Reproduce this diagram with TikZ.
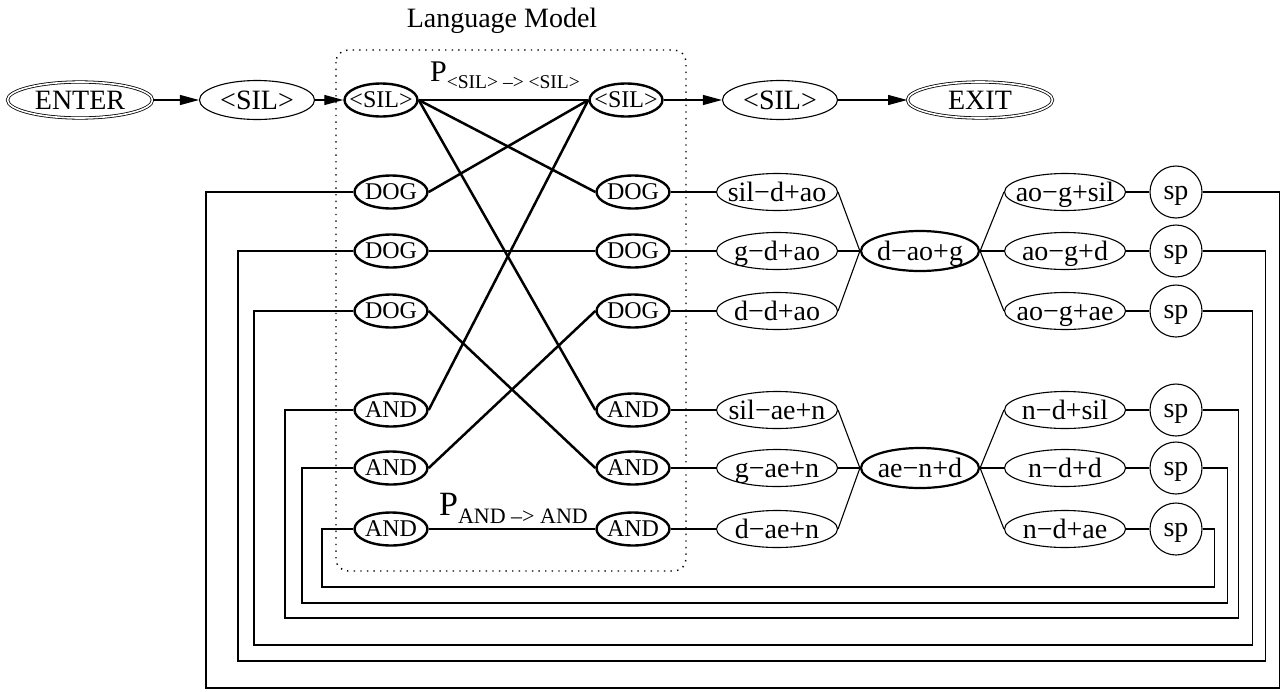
\documentclass[tikz,border=0pt]{standalone}
\usepackage{fontspec}
\setmainfont{Liberation Serif}
\usetikzlibrary{shapes.geometric}
\usetikzlibrary{arrows.meta}

\tikzset{
    oval/.style={ellipse, draw, line width=1.1pt, inner xsep=-20pt, inner ysep=-6pt,
        text height=19pt, text depth=1pt, font=\fontsize{28}{30}\selectfont},
    terminal/.style={oval, double, line width=0.8pt, double distance=1.6pt,
        minimum width=145pt, minimum height=36pt},
    silbox/.style={oval, minimum width=115pt, minimum height=39pt},
    lmword/.style={oval, line width=2.4pt, minimum width=73pt, minimum height=33pt,
        text height=16pt, font=\fontsize{24}{26}\selectfont},
    phone/.style={oval, minimum width=121pt, minimum height=37pt},
    midphone/.style={phone, line width=2.2pt, minimum width=118pt, minimum height=40pt},
    pause/.style={circle, draw, line width=1.1pt, inner sep=0pt, minimum size=52pt,
        text height=14pt, text depth=0pt, font=\fontsize{28}{30}\selectfont},
    wire/.style={line width=1.1pt},
    link/.style={line width=2.5pt},
    arrow/.style={wire, -{Triangle[length=19pt,width=10pt]}},
}

\begin{document}
\begin{tikzpicture}[x=1pt,y=-1pt]
    \useasboundingbox (0,0) rectangle (1285,691);

    % language model box
    \draw[line width=1.4pt, dash pattern=on 1.4pt off 5.2pt, rounded corners=12pt]
        (336,50) rectangle (686,571);
    \node[anchor=base, font=\fontsize{28}{30}\selectfont] (lmtitle) at (502,27) {Language Model};

    % top row
    \node[terminal] (enter) at (80,100) {ENTER};
    \node[silbox] (silin) at (257,100) {<SIL>};
    \node[lmword] (silL) at (381,100) {<SIL>};
    \node[lmword] (silR) at (626,100) {<SIL>};
    \node[silbox] (silout) at (780,100) {<SIL>};
    \node[terminal] (exit) at (980,100) {EXIT};

    \draw[arrow] (enter) -- (silin);
    \draw[arrow] (silin) -- (silL);
    \draw[arrow] (silR) -- (silout);
    \draw[arrow] (silout) -- (exit);

    % word ends, left and right
    \node[lmword] (dogLa) at (391,192) {DOG};
    \node[lmword] (dogLb) at (391,251) {DOG};
    \node[lmword] (dogLc) at (391,311) {DOG};
    \node[lmword] (andLa) at (391,410) {AND};
    \node[lmword] (andLb) at (391,468) {AND};
    \node[lmword] (andLc) at (391,529) {AND};

    \node[lmword] (dogRa) at (633,192) {DOG};
    \node[lmword] (dogRb) at (633,251) {DOG};
    \node[lmword] (dogRc) at (633,311) {DOG};
    \node[lmword] (andRa) at (633,410) {AND};
    \node[lmword] (andRb) at (633,468) {AND};
    \node[lmword] (andRc) at (633,529) {AND};

    % bigram links
    \draw[link] (silL.east) -- (silR.west);
    \draw[link] (silL.east) -- (dogRa.west);
    \draw[link] (silL.east) -- (andRa.west);
    \draw[link] (dogLa.east) -- (silR.west);
    \draw[link] (dogLb.east) -- (dogRb.west);
    \draw[link] (dogLc.east) -- (andRb.west);
    \draw[link] (andLa.east) -- (silR.west);
    \draw[link] (andLb.east) -- (dogRc.west);
    \draw[link] (andLc.east) -- (andRc.west);

    \node[anchor=base west, inner sep=0pt, font=\fontsize{30}{32}\selectfont] (psil) at (430,81)
        {P\raisebox{-7pt}{\fontsize{19.5}{21}\selectfont <SIL> \textendash> <SIL>}};
    \node[anchor=base west, inner sep=0pt, font=\fontsize{34}{36}\selectfont] (pand) at (439,515)
        {P\raisebox{-8pt}{\fontsize{22}{24}\selectfont AND \textendash> AND}};

    % triphones of DOG
    \node[phone] (dA) at (777,192) {sil\textminus d+ao};
    \node[phone] (dB) at (777,251) {g\textminus d+ao};
    \node[phone] (dC) at (777,311) {d\textminus d+ao};
    \node[midphone] (dao) at (920,251) {d\textminus ao+g};
    \node[phone] (gA) at (1065,192) {ao\textminus g+sil};
    \node[phone] (gB) at (1065,251) {ao\textminus g+d};
    \node[phone] (gC) at (1065,311) {ao\textminus g+ae};
    \node[pause] (spA) at (1176,192) {sp};
    \node[pause] (spB) at (1176,251) {sp};
    \node[pause] (spC) at (1176,311) {sp};

    % triphones of AND
    \node[phone] (aA) at (777,410) {sil\textminus ae+n};
    \node[phone] (aB) at (777,468) {g\textminus ae+n};
    \node[phone] (aC) at (777,529) {d\textminus ae+n};
    \node[midphone] (aen) at (920,468) {ae\textminus n+d};
    \node[phone] (nA) at (1065,410) {n\textminus d+sil};
    \node[phone] (nB) at (1065,468) {n\textminus d+d};
    \node[phone] (nC) at (1065,529) {n\textminus d+ae};
    \node[pause] (spD) at (1176,410) {sp};
    \node[pause] (spE) at (1176,468) {sp};
    \node[pause] (spF) at (1176,529) {sp};

    \draw[wire] (dogRa.east) -- (dA.west);
    \draw[wire] (dogRb.east) -- (dB.west);
    \draw[wire] (dogRc.east) -- (dC.west);
    \draw[wire] (dA.east) -- (dao.west);
    \draw[wire] (dB.east) -- (dao.west);
    \draw[wire] (dC.east) -- (dao.west);
    \draw[wire] (dao.east) -- (gA.west);
    \draw[wire] (dao.east) -- (gB.west);
    \draw[wire] (dao.east) -- (gC.west);
    \draw[wire] (gA.east) -- (spA.west);
    \draw[wire] (gB.east) -- (spB.west);
    \draw[wire] (gC.east) -- (spC.west);

    \draw[wire] (andRa.east) -- (aA.west);
    \draw[wire] (andRb.east) -- (aB.west);
    \draw[wire] (andRc.east) -- (aC.west);
    \draw[wire] (aA.east) -- (aen.west);
    \draw[wire] (aB.east) -- (aen.west);
    \draw[wire] (aC.east) -- (aen.west);
    \draw[wire] (aen.east) -- (nA.west);
    \draw[wire] (aen.east) -- (nB.west);
    \draw[wire] (aen.east) -- (nC.west);
    \draw[wire] (nA.east) -- (spD.west);
    \draw[wire] (nB.east) -- (spE.west);
    \draw[wire] (nC.east) -- (spF.west);

    % loops back to the word starts
    \draw[wire] (spA.east) -- ++(77,0) |- (206,688) |- (dogLa.west);
    \draw[wire] (spB.east) -- ++(63,0) |- (238,661) |- (dogLb.west);
    \draw[wire] (spC.east) -- ++(50,0) |- (254,645) |- (dogLc.west);
    \draw[wire] (spD.east) -- ++(36,0) |- (285,618) |- (andLa.west);
    \draw[wire] (spE.east) -- ++(25,0) |- (302,603) |- (andLb.west);
    \draw[wire] (spF.east) -- ++(12,0) |- (322,587) |- (andLc.west);
\end{tikzpicture}
\end{document}
